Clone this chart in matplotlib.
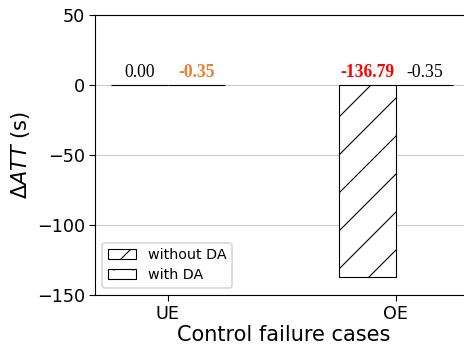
import matplotlib
matplotlib.use("Agg")
import matplotlib.pyplot as plt
import numpy as np

cases = ["UE", "OE"]
without_da = [0.00, -136.79]
with_da = [-0.35, -0.35]
without_labels = ["0.00", "-136.79"]
with_labels = ["-0.35", "-0.35"]
without_colors = ["black", "red"]
with_colors = ["#ED7D31", "black"]
without_bold = [False, True]
with_bold = [True, False]

dpi = 114
plt.rcParams["hatch.linewidth"] = 0.7
fig = plt.figure(figsize=(465 / dpi, 348 / dpi), dpi=dpi)
ax = fig.add_axes([0.2043, 0.1523, 0.81, 0.8046])

x = np.arange(len(cases))
w = 0.25
ax.bar(x - w / 2, without_da, w, facecolor="white", edgecolor="black",
       hatch="/", linewidth=0.7, label="without DA", zorder=3)
ax.bar(x + w / 2, with_da, w, facecolor="white", edgecolor="black",
       hatch="o", linewidth=0.7, label="with DA", zorder=3)

serif = ["Liberation Serif", "DejaVu Serif"]
for i in range(len(cases)):
    ax.text(x[i] - w / 2, 3, without_labels[i], ha="center", va="bottom",
            color=without_colors[i], family=serif, fontsize=11.1,
            fontweight="bold" if without_bold[i] else "normal")
    ax.text(x[i] + w / 2, 3, with_labels[i], ha="center", va="bottom",
            color=with_colors[i], family=serif, fontsize=11.1,
            fontweight="bold" if with_bold[i] else "normal")

ax.set_xlim(-0.32, 1.332)
ax.set_ylim(-150, 50)
ax.set_yticks([-150, -100, -50, 0, 50])
ax.set_xticks(x)
ax.set_xticklabels(cases)
ax.yaxis.grid(True, color="#cccccc", linewidth=0.7, zorder=0)
ax.set_axisbelow(True)
ax.tick_params(labelsize=11.1, width=0.7, length=3.5, pad=2.8)
for s in ax.spines.values():
    s.set_linewidth(0.7)

ax.set_xlabel("Control failure cases", fontsize=13.2, labelpad=1.4)
ax.set_ylabel(r"$\Delta ATT$ (s)", fontsize=13.2, labelpad=2.8)
ax.legend(loc="lower left", fontsize=9.0, handlelength=2.0, borderpad=0.4,
          labelspacing=0.4, framealpha=0.8)

fig.savefig("out.png", dpi=dpi)
